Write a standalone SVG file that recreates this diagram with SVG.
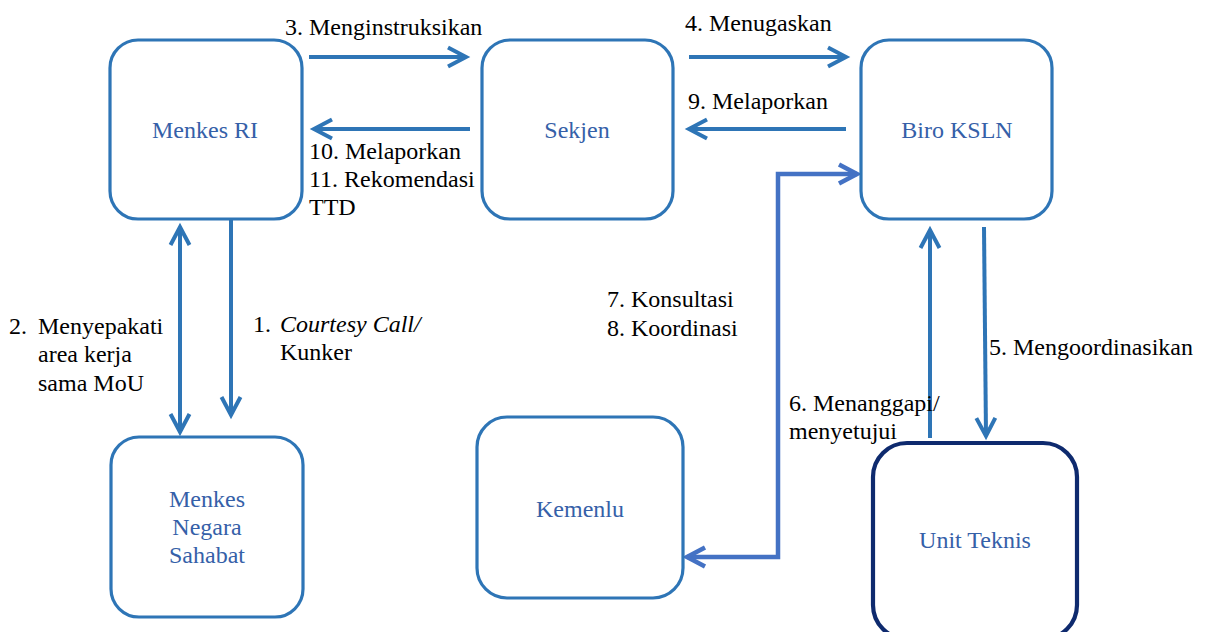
<svg xmlns="http://www.w3.org/2000/svg" width="1207" height="632" viewBox="0 0 1207 632">
<style>
  .box { fill: #ffffff; stroke: #2E75B6; stroke-width: 3.2; }
  .box2 { fill: #ffffff; stroke: #0E2A6E; stroke-width: 4.2; }
  text { font-family: 'Liberation Serif', Tinos, 'Times New Roman', 'Nimbus Roman', FreeSerif, 'Noto Serif', 'DejaVu Serif', serif; }
  .nt { font-size: 24px; fill: #3560A8; text-anchor: middle; }
  .lb { font-size: 24px; fill: #000000; }
  .ar { fill: none; stroke: #2E75B6; stroke-width: 4; }
  .ar2 { fill: none; stroke: #4472C4; stroke-width: 4.5; }
</style>
<defs>
  <marker id="head" markerUnits="userSpaceOnUse" markerWidth="26" markerHeight="26" refX="21" refY="12" orient="auto-start-reverse">
    <path d="M3,2.5 L21,12 L3,21.5" fill="none" stroke="#2E75B6" stroke-width="4"/>
  </marker>
  <marker id="head2" markerUnits="userSpaceOnUse" markerWidth="26" markerHeight="26" refX="21" refY="12" orient="auto-start-reverse">
    <path d="M3,2.5 L21,12 L3,21.5" fill="none" stroke="#4472C4" stroke-width="4.5"/>
  </marker>
</defs>

<g id="connectors">
  <line class="ar" x1="309" y1="57" x2="466" y2="57" marker-end="url(#head)"/>
  <line class="ar" x1="470" y1="129" x2="314" y2="129" marker-end="url(#head)"/>
  <line class="ar" x1="689" y1="57" x2="846" y2="57" marker-end="url(#head)"/>
  <line class="ar" x1="846" y1="129" x2="689" y2="129" marker-end="url(#head)"/>
  <line class="ar" x1="180" y1="227" x2="180" y2="432" marker-start="url(#head)" marker-end="url(#head)"/>
  <line class="ar" x1="231" y1="220" x2="231" y2="415" marker-end="url(#head)"/>
  <line class="ar" x1="930" y1="438" x2="930" y2="230" marker-end="url(#head)"/>
  <line class="ar" x1="984" y1="227" x2="986" y2="436" marker-end="url(#head)"/>
  <path class="ar2" d="M687,557 H778 V174 H857" marker-start="url(#head2)" marker-end="url(#head2)"/>
</g>

<g id="labels">
  <text class="lb" x="285" y="35">3. Menginstruksikan</text>
  <text class="lb" x="309" y="159">10. Melaporkan</text>
  <text class="lb" x="309" y="187">11. Rekomendasi</text>
  <text class="lb" x="309" y="215">TTD</text>
  <text class="lb" x="685" y="31">4. Menugaskan</text>
  <text class="lb" x="688" y="109">9. Melaporkan</text>
  <text class="lb" x="9" y="334">2.</text>
  <text class="lb" x="38" y="334">Menyepakati</text>
  <text class="lb" x="38" y="362">area kerja</text>
  <text class="lb" x="38" y="391">sama MoU</text>
  <text class="lb" x="253" y="332">1.</text>
  <text class="lb" x="280" y="332" font-style="italic">Courtesy Call/</text>
  <text class="lb" x="280" y="360">Kunker</text>
  <text class="lb" x="607" y="307">7. Konsultasi</text>
  <text class="lb" x="607" y="336">8. Koordinasi</text>
  <text class="lb" x="989" y="355">5. Mengoordinasikan</text>
  <text class="lb" x="789" y="411">6. Menanggapi/</text>
  <text class="lb" x="789" y="439">menyetujui</text>
</g>

<g id="menkes-ri">
  <rect class="box" x="110" y="40" width="192" height="179" rx="28" ry="28"/>
  <text class="nt" x="205" y="138">Menkes RI</text>
</g>
<g id="sekjen">
  <rect class="box" x="482" y="40" width="191" height="179" rx="28" ry="28"/>
  <text class="nt" x="577" y="138">Sekjen</text>
</g>
<g id="biro-ksln">
  <rect class="box" x="861" y="40" width="191" height="179" rx="28" ry="28"/>
  <text class="nt" x="957" y="138">Biro KSLN</text>
</g>
<g id="menkes-negara-sahabat">
  <rect class="box" x="111" y="437" width="192" height="180" rx="28" ry="28"/>
  <text class="nt" x="207" y="507">Menkes</text>
  <text class="nt" x="207" y="535">Negara</text>
  <text class="nt" x="207" y="563">Sahabat</text>
</g>
<g id="kemenlu">
  <rect class="box" x="477" y="417" width="206" height="181" rx="30" ry="30"/>
  <text class="nt" x="580" y="517">Kemenlu</text>
</g>
<g id="unit-teknis">
  <rect class="box2" x="873" y="443" width="204" height="196" rx="34" ry="34"/>
  <text class="nt" x="975" y="548">Unit Teknis</text>
</g>
</svg>
